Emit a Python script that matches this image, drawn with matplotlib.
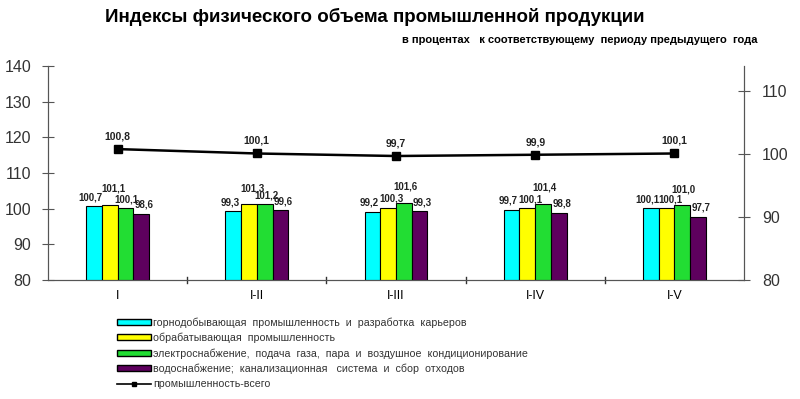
import matplotlib
matplotlib.use("Agg")
import matplotlib.pyplot as plt
import numpy as np
from matplotlib.patches import Patch
from matplotlib.lines import Line2D

plt.rcParams['font.family'] = ['Liberation Sans', 'DejaVu Sans']

categories = ["I", "I-II", "I-III", "I-IV", "I-V"]
mining = [100.7, 99.3, 99.2, 99.7, 100.1]
manufacturing = [101.1, 101.3, 100.3, 100.1, 100.1]
electricity = [100.1, 101.2, 101.6, 101.4, 101.0]
water = [98.6, 99.6, 99.3, 98.8, 97.7]
total = [100.8, 100.1, 99.7, 99.9, 100.1]

series_names = [
    "горнодобывающая  промышленность  и  разработка  карьеров",
    "обрабатывающая  промышленность",
    "электроснабжение,  подача  газа,  пара  и  воздушное  кондиционирование",
    "водоснабжение;  канализационная   система  и  сбор  отходов",
]
total_name = "промышленность-всего"
colors = ["#00FFFF", "#FFFF00", "#22DD33", "#5E005E"]

def fmt(v):
    return f"{v:.1f}".replace(".", ",")

fig = plt.figure(figsize=(8, 3.99), dpi=100)
ax = fig.add_axes([0.06, 0.2982, 0.87, 0.5364])
ax2 = ax.twinx()

x = np.arange(len(categories))
w = 0.113
series = [mining, manufacturing, electricity, water]
label_dx = [-2.5, 2.5, 1.0, 2.0]
for i, (vals, c) in enumerate(zip(series, colors)):
    pos = x + (i - 1.5) * w
    ax.bar(pos, [v - 80 for v in vals], bottom=80, width=w, color=c,
           edgecolor="black", linewidth=0.8, zorder=3)

# value labels: the tallest bar of each group gets its label lifted higher
for g in range(len(categories)):
    group_vals = [s[g] for s in series]
    top = int(np.argmax(group_vals))
    for i, v in enumerate(group_vals):
        p = x[g] + (i - 1.5) * w
        dy = 11.5 if i == top else 6.5
        ax.annotate(fmt(v), (p, v), xytext=(label_dx[i], dy),
                    textcoords="offset points", ha="center", va="center",
                    fontsize=7, fontweight="bold", color="#222222", zorder=4)

ax.set_xlim(-0.5, len(categories) - 0.5)
ax.set_ylim(80, 140)
ax.set_yticks(range(80, 141, 10))
ax2.set_ylim(80, 114)
ax2.set_yticks([80, 90, 100, 110])

ax2.plot(x, total, color="black", linewidth=1.8, marker="s", markersize=6,
         zorder=5)
for xi, v in zip(x, total):
    ax2.annotate(fmt(v), (xi, v), xytext=(0, 9), textcoords="offset points",
                 ha="center", va="center", fontsize=7.5, fontweight="bold",
                 color="#222222")

ax.set_xticks(x)
ax.set_xticklabels(categories, fontsize=9)
ax.tick_params(axis="x", length=0, pad=7)
for b in np.arange(0.5, len(categories) - 0.5, 1):
    ax.plot([b, b], [79.1, 80.9], color="#333333", linewidth=1, clip_on=False,
            zorder=2)

for a in (ax, ax2):
    a.spines["top"].set_visible(False)
    for s in ("left", "right", "bottom"):
        a.spines[s].set_color("#555555")
ax.tick_params(axis="y", direction="inout", length=8, labelsize=11.5,
               labelcolor="#333333", color="#555555", pad=8)
ax2.tick_params(axis="y", direction="inout", length=8, labelsize=11.5,
                labelcolor="#333333", color="#555555", pad=9)

fig.text(0.469, 0.957, "Индексы физического объема промышленной продукции",
         ha="center", va="center", fontsize=13.5, fontweight="bold")
fig.text(0.947, 0.90,
         "в процентах   к соответствующему  периоду предыдущего  года",
         ha="right", va="center", fontsize=8, fontweight="bold")

handles = [Patch(facecolor=c, edgecolor="black", linewidth=1) for c in colors]
handles.append(Line2D([0], [0], color="black", linewidth=1.2, marker="s",
                      markersize=3.5))
labels = series_names + [total_name]
leg = fig.legend(handles, labels, loc="upper left",
                 bbox_to_anchor=(0.146, 0.205), frameon=False, fontsize=7.7,
                 handlelength=3.2, handleheight=0.45, handletextpad=0.2,
                 labelspacing=0.47, borderpad=0, borderaxespad=0)
for t in leg.get_texts():
    t.set_color("#333333")

fig.savefig("out.png", dpi=100)
